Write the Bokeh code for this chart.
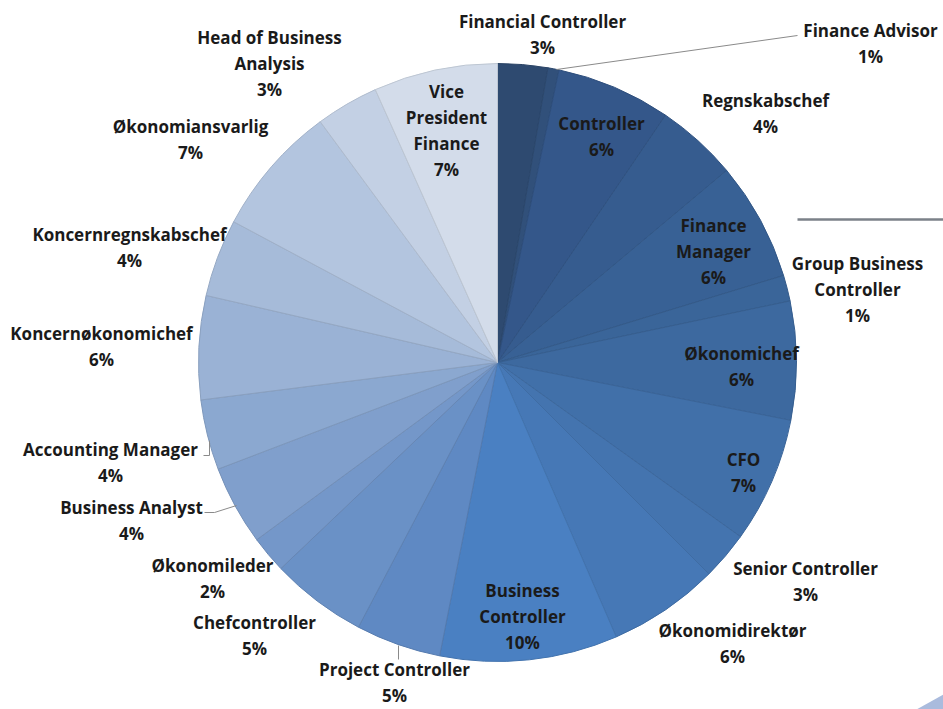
import math
from bokeh.plotting import figure
from bokeh.models import Range1d, ColumnDataSource
from bokeh.core.properties import value
from bokeh.embed import file_html
from bokeh.resources import INLINE

# ---- data (clockwise from 12 o'clock), share in percent ----
categories = ["Financial Controller", "Finance Advisor", "Controller", "Regnskabschef",
              "Finance Manager", "Group Business Controller", "Økonomichef", "CFO",
              "Senior Controller", "Økonomidirektør", "Business Controller",
              "Project Controller", "Chefcontroller", "Økonomileder", "Business Analyst",
              "Accounting Manager", "Koncernøkonomichef", "Koncernregnskabschef",
              "Økonomiansvarlig", "Head of Business Analysis", "Vice President Finance"]
shares = [2.7, 0.6, 6.2, 4.4, 6.4, 1.4, 6.4, 6.8, 2.6, 6.0, 9.6,
          4.6, 5.2, 2.0, 4.3, 3.8, 5.6, 4.2, 7.1, 3.4, 6.7]
colors = ["#2e4a70", "#31507a", "#34578a", "#365c8f", "#386195", "#3a6599", "#3d699f",
          "#4170a9", "#4474af", "#4678b6", "#4a80c2", "#5f89c3", "#6a91c6", "#7497c9",
          "#809fcc", "#8ba8d0", "#9ab2d5", "#a6bbd9", "#b3c5df", "#c3d0e4", "#d3dcea"]

# ---- layout ----
W, H = 943, 709
CX, CY, R = 497, H - 362, 299
wrap = {"Finance Manager": "Finance\nManager",
        "Group Business Controller": "Group Business\nController",
        "Business Controller": "Business\nController",
        "Head of Business Analysis": "Head of Business\nAnalysis",
        "Vice President Finance": "Vice\nPresident\nFinance"}
label_xy = [(542, 34), (870, 43), (601, 136), (765, 113), (713, 251), (857, 289),
            (741, 366), (743, 472), (805, 581), (732, 643), (522, 616), (394, 682),
            (254, 635), (212, 578), (131, 520), (110, 462), (101, 346), (129, 247),
            (190, 139), (269, 63), (446, 130)]


def darker(hexc, f=0.9):
    r, g, b = int(hexc[1:3], 16), int(hexc[3:5], 16), int(hexc[5:7], 16)
    return "#%02x%02x%02x" % (int(r * f), int(g * f), int(b * f))


total = sum(shares)
starts, ends = [], []
cum = 0.0
for s in shares:
    a0 = math.pi / 2 - 2 * math.pi * cum / total
    cum += s
    a1 = math.pi / 2 - 2 * math.pi * cum / total
    starts.append(a1)
    ends.append(a0)

src = ColumnDataSource(dict(start=starts, end=ends, color=colors,
                            line=[darker(c) for c in colors]))

p = figure(width=W, height=H, output_backend="svg", toolbar_location=None,
           x_range=Range1d(0, W), y_range=Range1d(0, H), min_border=0,
           outline_line_color=None)
p.axis.visible = False
p.grid.visible = False
p.background_fill_color = "white"
p.border_fill_color = "white"

p.wedge(x=CX, y=CY, radius=R, start_angle="start", end_angle="end",
        fill_color="color", line_color="line", line_width=1, source=src)

# leader lines
gray = "#8a8a8a"
p.line([556, 797], [H - 69, H - 35], line_color=gray, line_width=1)
p.line([398, 398], [H - 645, H - 659], line_color=gray, line_width=1)
p.line([204, 214, 236], [H - 512, H - 512, H - 505], line_color=gray, line_width=1)
p.line([203, 209, 209], [H - 455, H - 455, H - 440], line_color=gray, line_width=1)

# slide decorations visible in the picture
p.line([797, 943], [H - 219, H - 219], line_color="#7b8189", line_width=2.5)
p.patch([916, 943, 943], [0, 15, 0], fill_color="#aabbdd", line_color=None)

texts = [f"{wrap.get(c, c)}\n{round(s)}%" for c, s in zip(categories, shares)]
lsrc = ColumnDataSource(dict(x=[xy[0] for xy in label_xy],
                             y=[H - xy[1] for xy in label_xy], t=texts))
p.text(x="x", y="y", text="t", source=lsrc, text_align="center",
       text_baseline="middle", text_font=value("Open Sans"), text_font_style="bold",
       text_font_size="17px", text_line_height=1.13, text_color="#1a1a1a")

open("out.html", "w").write(file_html(p, INLINE))
